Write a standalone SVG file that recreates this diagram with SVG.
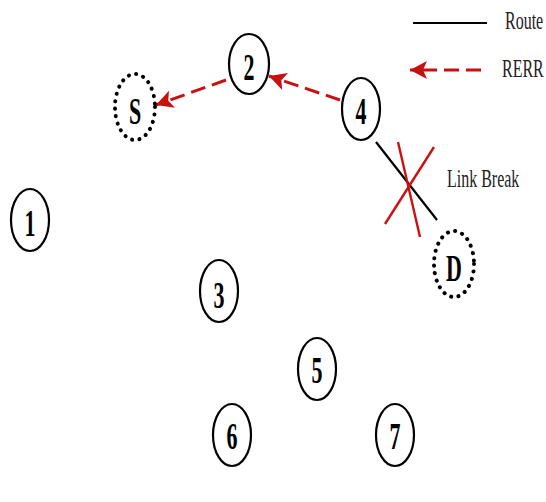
<svg xmlns="http://www.w3.org/2000/svg" width="546" height="502" viewBox="0 0 546 502">
  <style>
    .node { fill: #ffffff; stroke: #000000; stroke-width: 2.2; }
    .dotted { fill: #ffffff; stroke: #000000; stroke-width: 4; stroke-dasharray: 0.1 7.4; stroke-linecap: round; }
    .lbl { font-family: "Liberation Serif", "Times New Roman", serif; font-weight: bold; font-size: 22px; text-anchor: middle; fill: #000000; }
    .txt { font-family: "Liberation Serif", "Times New Roman", serif; font-size: 16px; fill: #222222; }
    .route { stroke: #000000; stroke-width: 2.2; fill: none; }
    .rerr { stroke: #c81010; stroke-width: 3; stroke-dasharray: 15 7; fill: none; }
    .cross { stroke: #cc1111; stroke-width: 2.4; fill: none; }
  </style>
  <defs>
    <marker id="arrow" markerUnits="userSpaceOnUse" markerWidth="20" markerHeight="20" refX="17" refY="9" orient="auto">
      <path d="M0,0 L17,9 L0,18 L4,9 Z" fill="#c81010"/>
    </marker>
  </defs>
  <rect width="546" height="502" fill="#ffffff"/>

  <!-- connectors -->
  <g id="connectors">
    <line class="route" x1="376" y1="142" x2="437" y2="220"/>
    <line class="rerr" x1="340" y1="100" x2="269" y2="76" marker-end="url(#arrow)"/>
    <line class="rerr" x1="226" y1="80" x2="156" y2="105" marker-end="url(#arrow)"/>
  </g>

  <!-- link break marker -->
  <g id="link-break">
    <line class="cross" x1="398" y1="142" x2="420" y2="237"/>
    <line class="cross" x1="434" y1="147" x2="385" y2="224"/>
    <text class="txt" transform="translate(447,187) scale(1,1.6)">Link Break</text>
  </g>

  <!-- nodes -->
  <g id="node-S">
    <ellipse class="dotted" cx="135" cy="107" rx="20" ry="33"/>
    <text class="lbl" transform="translate(135,124) scale(1,1.75)">S</text>
  </g>
  <g id="node-2">
    <ellipse class="node" cx="249" cy="64" rx="20" ry="30"/>
    <text class="lbl" transform="translate(249,80) scale(1,1.75)">2</text>
  </g>
  <g id="node-4">
    <ellipse class="node" cx="361" cy="109" rx="19" ry="31"/>
    <text class="lbl" transform="translate(361,124) scale(1,1.75)">4</text>
  </g>
  <g id="node-D">
    <ellipse class="dotted" cx="454" cy="264" rx="20" ry="33"/>
    <text class="lbl" transform="translate(454,281) scale(1,1.75)">D</text>
  </g>
  <g id="node-1">
    <ellipse class="node" cx="30" cy="220" rx="19" ry="31"/>
    <text class="lbl" transform="translate(30,236) scale(1,1.75)">1</text>
  </g>
  <g id="node-3">
    <ellipse class="node" cx="219" cy="291" rx="19" ry="31"/>
    <text class="lbl" transform="translate(219,308) scale(1,1.75)">3</text>
  </g>
  <g id="node-5">
    <ellipse class="node" cx="317" cy="369" rx="19" ry="31"/>
    <text class="lbl" transform="translate(317,383) scale(1,1.75)">5</text>
  </g>
  <g id="node-6">
    <ellipse class="node" cx="232" cy="435" rx="19" ry="31"/>
    <text class="lbl" transform="translate(232,449) scale(1,1.75)">6</text>
  </g>
  <g id="node-7">
    <ellipse class="node" cx="395" cy="435" rx="19" ry="31"/>
    <text class="lbl" transform="translate(395,449) scale(1,1.75)">7</text>
  </g>

  <!-- legend -->
  <g id="legend">
    <line class="route" x1="413" y1="23" x2="487" y2="23" stroke-width="2.6"/>
    <text class="txt" transform="translate(505,29) scale(1,1.6)">Route</text>
    <line class="rerr" x1="481" y1="70" x2="410" y2="70" marker-end="url(#arrow)"/>
    <text class="txt" transform="translate(502,77) scale(1,1.6)">RERR</text>
  </g>
</svg>
